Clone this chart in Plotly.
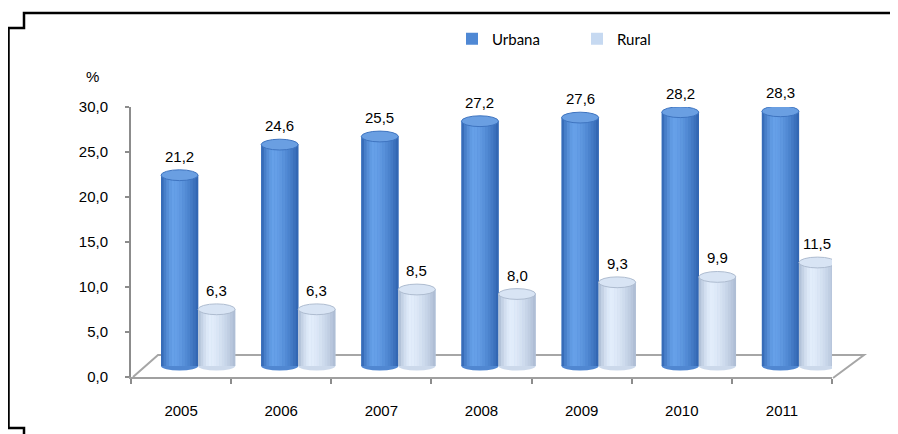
import plotly.graph_objects as go

years = ["2005", "2006", "2007", "2008", "2009", "2010", "2011"]
urbana = [21.2, 24.6, 25.5, 27.2, 27.6, 28.2, 28.3]
rural = [6.3, 6.3, 8.5, 8.0, 9.3, 9.9, 11.5]
y_ticks = [0, 5, 10, 15, 20, 25, 30]

# page has an 8px body margin: build the figure in page pixels shifted by it
OFF = 8
W, H = 898 - OFF, 434 - OFF
BW = 0.37          # bar width (category units)
NSTRIP = 14
FONT = "Arial, 'Liberation Sans', sans-serif"

def px(x):
    return (x - OFF) / W

def py(y):
    return 1 - (y - OFF) / H

def mix(c1, c2, t):
    return "rgb(%d,%d,%d)" % tuple(round(a + (b - a) * t) for a, b in zip(c1, c2))

def profile(t, peak=0.33):
    if t < peak:
        d = (peak - t) / peak
    else:
        d = (t - peak) / (1 - peak)
    return max(0.0, 1 - d ** 1.6)

series = [
    dict(name="Urbana", vals=urbana, off=-BW, legend="#4f88d4",
         dark=(46, 98, 174), light=(102, 160, 232), top="#6a9fe2", rim="#3e74c0"),
    dict(name="Rural", vals=rural, off=0.0, legend="#c6d9f1",
         dark=(170, 186, 210), light=(226, 237, 251), top="#d8e4f4", rim="#aebcd0"),
]

xs = list(range(len(years)))
fig = go.Figure()

fig.add_trace(go.Scatter(x=years, y=[None] * len(years), xaxis="x", yaxis="y",
                         showlegend=False, hoverinfo="skip", mode="markers"))

shapes = []
annotations = []
for s in series:
    fig.add_trace(go.Bar(x=xs, y=s["vals"], name=s["name"], xaxis="x2", yaxis="y2",
                         offset=s["off"], width=BW, marker=dict(color=s["legend"], line=dict(width=0)),
                         showlegend=True, hoverinfo="skip"))
    sw = BW / NSTRIP
    for k in range(NSTRIP):
        t = (k + 0.5) / NSTRIP
        col = mix(s["dark"], s["light"], profile(t))
        fig.add_trace(go.Bar(x=xs, y=s["vals"], xaxis="x2", yaxis="y2",
                             offset=s["off"] + k * sw, width=sw * 1.08,
                             marker=dict(color=col, line=dict(width=0)),
                             showlegend=False, hoverinfo="skip"))
    for i, v in zip(xs, s["vals"]):
        x0 = i + s["off"]
        x1 = x0 + BW
        shapes.append(dict(type="circle", xref="x2", yref="y2", layer="below",
                           x0=x0, x1=x1, y0=-0.5, y1=0.5,
                           fillcolor=mix(s["dark"], s["light"], 0.6), line=dict(width=0)))
        shapes.append(dict(type="circle", xref="x2", yref="y2", layer="above",
                           x0=x0, x1=x1, y0=v - 0.6, y1=v + 0.6,
                           fillcolor=s["top"], line=dict(color=s["rim"], width=1)))
        annotations.append(dict(x=(x0 + x1) / 2, y=v, xref="x2", yref="y2",
                                text=f"{v:.1f}".replace(".", ","), showarrow=False,
                                yshift=19, yanchor="middle",
                                font=dict(family=FONT, size=15, color="#000")))

floor = "M %f,%f L %f,%f L %f,%f L %f,%f" % (
    px(133), py(377), px(158), py(355), px(864), py(355), px(833), py(378))
shapes.append(dict(type="path", xref="paper", yref="paper", path=floor, layer="below",
                   line=dict(color="#a6a6a6", width=2)))

frame = "M %f,%f L %f,%f L %f,%f L %f,%f L %f,%f L %f,%f L %f,%f" % (
    px(899), py(13), px(24), py(13), px(24), py(28), px(8.5), py(28),
    px(8.5), py(428), px(24), py(428), px(24), py(436))
shapes.append(dict(type="path", xref="paper", yref="paper", path=frame,
                   line=dict(color="#000", width=2.5)))

annotations.append(dict(x=px(84), y=py(66), xref="paper", yref="paper", text="%",
                        showarrow=False, font=dict(family=FONT, size=15, color="#000")))

L, R, T, B = 131, 832, 107, 377
ppu_x = (R - L) / len(years)
ppu_y = (B - T) / 30
dx = 17 / ppu_x
dy = 11 / ppu_y

fig.update_layout(
    width=W, height=H,
    margin=dict(l=0, r=0, t=0, b=0),
    paper_bgcolor="white", plot_bgcolor="rgba(0,0,0,0)",
    separators=",.",
    barmode="overlay",
    font=dict(family=FONT, size=15, color="#000"),
    xaxis=dict(domain=[px(L), px(R)], type="category", categoryorder="array", categoryarray=years,
               range=[-0.5, len(years) - 0.5], tickson="boundaries", ticks="outside", ticklen=5,
               tickwidth=2, tickcolor="#8c8c8c", showline=True, linecolor="#a0a0a0", linewidth=2,
               showgrid=False, zeroline=False, automargin=False, ticklabelstandoff=19,
               tickfont=dict(family=FONT, size=15, color="#000")),
    yaxis=dict(domain=[py(B), py(T)], range=[0, 30], tickvals=y_ticks, tickformat=".1f",
               ticks="outside", ticklen=4, tickwidth=2, tickcolor="#8c8c8c", showline=True,
               linecolor="#8c8c8c", linewidth=2, showgrid=False, zeroline=False, automargin=False,
               ticklabelstandoff=14,
               tickfont=dict(family=FONT, size=15, color="#000")),
    xaxis2=dict(overlaying="x", range=[-0.5 - dx, len(years) - 0.5 - dx], visible=False),
    yaxis2=dict(overlaying="y", range=[-dy, 30 - dy], visible=False),
    shapes=shapes,
    annotations=annotations,
    legend=dict(orientation="h", x=px(452), y=py(39), xanchor="left", yanchor="middle",
                itemwidth=30, entrywidth=80, entrywidthmode="pixels", bgcolor="rgba(0,0,0,0)",
                font=dict(family="Lato", size=15, color="#000")),
)

fig.write_html("out.html")
